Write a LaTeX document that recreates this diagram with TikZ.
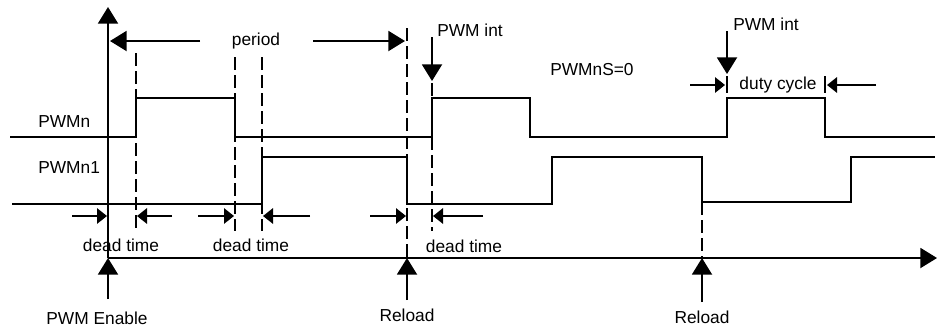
\documentclass[tikz,border=0pt]{standalone}
\usepackage{fontspec}
\setmainfont{Liberation Sans}
\usetikzlibrary{arrows.meta, positioning}
\tikzset{
	wave/.style     ={line width=1.5pt, line join=miter},
	axis/.style     ={line width=1.5pt, -{Triangle[length=12.5pt, width=15pt]}},
	bigarrow/.style ={line width=1.5pt, -{Triangle[length=12.5pt, width=15pt]}},
	smallarrow/.style={line width=1.5pt, -{Triangle[length=7.5pt, width=11.5pt]}},
	marker/.style   ={line width=1.5pt, dash pattern=on 9.5pt off 4pt},
	lbl/.style      ={inner sep=0pt, font=\fontsize{13}{15}\selectfont},
}

\begin{document}
\begin{tikzpicture}[x=0.75pt, y=-0.75pt]
	\useasboundingbox (0,0) rectangle (937,326);
	% axes
	\coordinate (o) at (108,258);
	\draw[axis] (o) -- (108,7);
	\draw[axis] (o) -- (937,258);
	% signal names
	\node[lbl, anchor=west] (pwmn) at (38,122) {PWMn};
	\node[lbl, anchor=west] (pwmn1) at (38,168) {PWMn1};
	% waveforms
	\draw[wave] (10,137) -- (136,137) -- (136,98) -- (235,98) -- (235,137) -- (432,137) -- (432,98) -- (530,98) -- (530,137)
		-- (727,137) -- (727,98) -- (825,98) -- (825,137) -- (935,137);
	\draw[wave] (12,204) -- (262,204) -- (262,157) -- (407,157) -- (407,204) -- (552,204) -- (552,157) -- (702,157) -- (702,202)
		-- (851,202) -- (851,157) -- (935,157);
	% dashed markers
	\draw[marker] (136,53) -- (136,229);
	\draw[marker] (235,57) -- (235,231);
	\draw[marker] (262,57) -- (262,231);
	\draw[marker] (407,28) -- (407,258);
	\draw[marker] (432,83) -- (432,231);
	\draw[marker] (702,202) -- (702,258);
	% period
	\node[lbl] (period) at (256,41) {period};
	\draw[bigarrow] (200,41) -- (110,41);
	\draw[bigarrow] (313,41) -- (405,41);
	% interrupts
	\node[lbl, anchor=west] (int1) at (437,30) {PWM int};
	\draw[bigarrow] (432,37) -- (432,81);
	\node[lbl, anchor=west] (int2) at (733,24) {PWM int};
	\draw[bigarrow] (727,31) -- (727,74);
	\node[lbl, anchor=west] (pwmns) at (550,70) {PWMnS=0};
	% duty cycle
	\node[lbl] (duty) at (778,85) {duty cycle};
	\draw[line width=1.5pt] (727,76) -- (727,93) (825,76) -- (825,93);
	\draw[smallarrow] (690,85) -- (725,85);
	\draw[smallarrow] (876,85) -- (827,85);
	% dead times
	\foreach \a/\b/\c/\d in {72/107/172/137, 198/234/310/263, 370/406/483/433}
	{
		\draw[smallarrow] (\a,216) -- (\b,216);
		\draw[smallarrow] (\c,216) -- (\d,216);
	}
	\node[lbl] (dt1) at (121,245) {dead time};
	\node[lbl] (dt2) at (251,245) {dead time};
	\node[lbl] (dt3) at (464,246) {dead time};
	% events on the time axis
	\coordinate (rl1) at (407,258);
	\coordinate (rl2) at (702,258);
	\draw[bigarrow] (108,299) -- (o);
	\draw[bigarrow] (407,300) -- (rl1);
	\draw[bigarrow] (702,302) -- (rl2);
	\node[lbl] (enable) at (97,318) {PWM Enable};
	\node[lbl] (reload1) at (407,315) {Reload};
	\node[lbl] (reload2) at (702,317) {Reload};
\end{tikzpicture}
\end{document}
